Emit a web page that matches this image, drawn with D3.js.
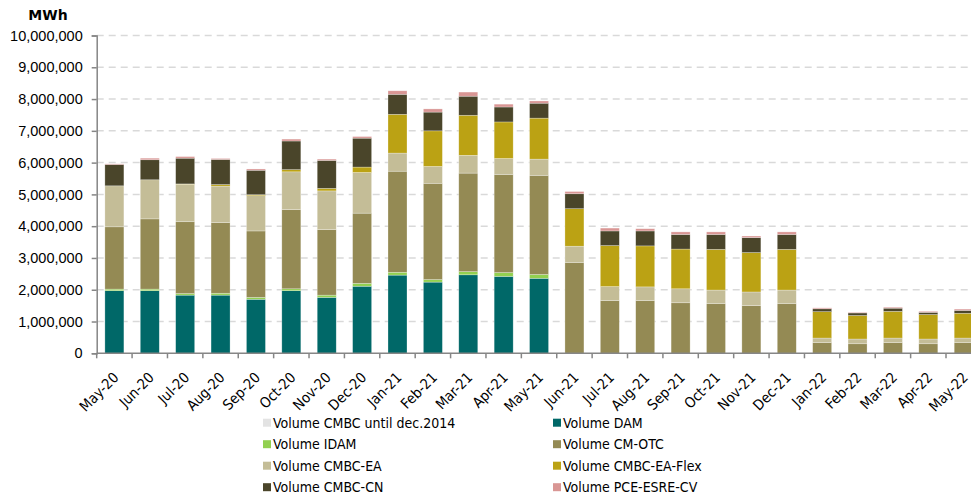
<!DOCTYPE html>
<html>
<head>
<meta charset="utf-8">
<script src="https://cdn.jsdelivr.net/npm/d3@7"></script>
<style>
    body { margin: 0; background: #fff; }
    svg { display: block; font-family: "DejaVu Sans Condensed", "DejaVu Sans", sans-serif; }
</style>
</head>
<body>
<div id="chart"></div>
<script>
// months on the x axis
const months = ["May-20", "Jun-20", "Jul-20", "Aug-20", "Sep-20", "Oct-20", "Nov-20", "Dec-20",
    "Jan-21", "Feb-21", "Mar-21", "Apr-21", "May-21", "Jun-21", "Jul-21", "Aug-21", "Sep-21",
    "Oct-21", "Nov-21", "Dec-21", "Jan-22", "Feb-22", "Mar-22", "Apr-22", "May-22"];

// volumes in MWh, one array per series
const cmbcOld  = [0, 0, 0, 0, 0, 0, 0, 0, 0, 0, 0, 0, 0, 0, 0, 0, 0, 0, 0, 0, 0, 0, 0, 0, 0];
const dam      = [1970000, 1970000, 1830000, 1830000, 1700000, 1970000, 1760000, 2110000, 2460000, 2240000, 2470000, 2420000, 2360000,
    0, 0, 0, 0, 0, 0, 0, 0, 0, 0, 0, 0];
const idam     = [50000, 50000, 50000, 60000, 60000, 60000, 70000, 90000, 90000, 80000, 100000, 120000, 120000,
    0, 0, 0, 0, 0, 0, 0, 0, 0, 0, 0, 0];
const cmOtc    = [1960000, 2210000, 2260000, 2220000, 2090000, 2490000, 2060000, 2210000, 3180000, 3030000, 3100000, 3090000, 3120000,
    2860000, 1660000, 1660000, 1590000, 1560000, 1500000, 1560000, 340000, 300000, 340000, 300000, 340000];
const cmbcEa   = [1290000, 1230000, 1180000, 1150000, 1110000, 1190000, 1220000, 1280000, 570000, 530000, 560000, 500000, 510000,
    510000, 440000, 430000, 440000, 430000, 430000, 430000, 140000, 150000, 140000, 150000, 140000];
const eaFlex   = [0, 0, 10000, 50000, 30000, 70000, 80000, 170000, 1220000, 1120000, 1260000, 1150000, 1290000,
    1180000, 1290000, 1290000, 1250000, 1280000, 1240000, 1280000, 830000, 740000, 840000, 770000, 780000];
const cmbcCn   = [670000, 630000, 810000, 790000, 770000, 900000, 880000, 910000, 630000, 590000, 600000, 470000, 470000,
    470000, 460000, 470000, 460000, 470000, 470000, 470000, 90000, 80000, 100000, 70000, 90000];
const pce      = [20000, 50000, 50000, 30000, 40000, 60000, 40000, 50000, 110000, 100000, 130000, 90000, 70000,
    70000, 90000, 70000, 80000, 80000, 50000, 80000, 30000, 20000, 30000, 30000, 40000];

const seriesNames = ["Volume CMBC until dec.2014", "Volume DAM", "Volume IDAM", "Volume CM-OTC",
    "Volume CMBC-EA", "Volume CMBC-EA-Flex", "Volume CMBC-CN", "Volume PCE-ESRE-CV"];
const seriesValues = [cmbcOld, dam, idam, cmOtc, cmbcEa, eaFlex, cmbcCn, pce];
const colors = ["#e3e3e3", "#006868", "#92d050", "#948a54", "#c4bd97", "#bba214", "#4a452a", "#d99694"];

const yTicks = d3.range(0, 10000001, 1000000);

const width = 971, height = 498;
const plotLeft = 96.7, plotRight = 981.4, plotTop = 35.5, plotBottom = 353.3;

// table for the stack
const table = months.map((m, i) => {
    const row = { month: m };
    seriesNames.forEach((s, k) => row[s] = seriesValues[k][i]);
    return row;
});
const stacked = d3.stack().keys(seriesNames)(table);

const svg = d3.select("#chart").append("svg")
    .attr("width", width)
    .attr("height", height);

const x = d3.scaleBand()
    .domain(months)
    .range([plotLeft, plotRight])
    .paddingInner(0.463)
    .paddingOuter(0.2315);

const y = d3.scaleLinear()
    .domain([0, 10000000])
    .range([plotBottom, plotTop]);

// dashed gridlines
svg.append("g")
    .selectAll("line")
    .data(yTicks.filter(d => d > 0))
    .enter()
    .append("line")
    .attr("x1", plotLeft)
    .attr("x2", plotRight)
    .attr("y1", d => y(d))
    .attr("y2", d => y(d))
    .attr("stroke", "#d9d9d9")
    .attr("stroke-width", 1.5)
    .attr("stroke-dasharray", "7,5");

// bars
svg.append("g")
    .selectAll("g")
    .data(stacked)
    .enter()
    .append("g")
    .attr("fill", (d, i) => colors[i])
    .selectAll("rect")
    .data(d => d)
    .enter()
    .append("rect")
    .attr("x", d => x(d.data.month))
    .attr("width", x.bandwidth())
    .attr("y", d => y(d[1]))
    .attr("height", d => y(d[0]) - y(d[1]))
    .attr("stroke", "#ffffff")
    .attr("stroke-opacity", 0.45)
    .attr("stroke-width", 0.6);

// y axis
const yAxis = svg.append("g")
    .attr("transform", `translate(${plotLeft},0)`)
    .call(d3.axisLeft(y).tickValues(yTicks).tickSize(5).tickPadding(9).tickFormat(d3.format(",")));
yAxis.select(".domain").attr("stroke", "#868686").attr("stroke-width", 1.5);
yAxis.selectAll(".tick line").attr("stroke", "#868686").attr("stroke-width", 1.5);
yAxis.selectAll("text").attr("font-size", 14.5).attr("font-family", null).attr("fill", "#000");

// x axis: baseline plus ticks between the bars
const xAxis = svg.append("g");
xAxis.append("line")
    .attr("x1", plotLeft)
    .attr("x2", plotRight)
    .attr("y1", plotBottom)
    .attr("y2", plotBottom)
    .attr("stroke", "#868686")
    .attr("stroke-width", 1.5);
xAxis.selectAll(".xtick")
    .data(d3.range(months.length + 1))
    .enter()
    .append("line")
    .attr("class", "xtick")
    .attr("x1", i => plotLeft + i * x.step())
    .attr("x2", i => plotLeft + i * x.step())
    .attr("y1", plotBottom)
    .attr("y2", plotBottom + 5)
    .attr("stroke", "#868686")
    .attr("stroke-width", 1.5);
xAxis.selectAll(".xlabel")
    .data(months)
    .enter()
    .append("text")
    .attr("class", "xlabel")
    .attr("transform", d => `translate(${x(d) + x.bandwidth() / 2 - 2},${plotBottom + 18}) rotate(-45)`)
    .attr("text-anchor", "end")
    .attr("dy", "0.7em")
    .attr("font-size", 14.5)
    .text(d => d);

// unit label
svg.append("text")
    .attr("x", 48)
    .attr("y", 20)
    .attr("text-anchor", "middle")
    .attr("font-size", 14)
    .attr("font-weight", "bold")
    .attr("font-family", "DejaVu Sans, sans-serif")
    .text("MWh");

// legend, two columns
const legend = svg.append("g")
    .selectAll("g")
    .data(seriesNames)
    .enter()
    .append("g")
    .attr("transform", (d, i) => `translate(${i % 2 === 0 ? 263 : 553},${422.7 + Math.floor(i / 2) * 21.5})`);
legend.append("rect")
    .attr("x", 0)
    .attr("y", -4)
    .attr("width", 8)
    .attr("height", 8)
    .attr("fill", (d, i) => colors[i]);
legend.append("text")
    .attr("x", 10)
    .attr("dy", "0.36em")
    .attr("font-size", 14)
    .text(d => d);
</script>
</body>
</html>
